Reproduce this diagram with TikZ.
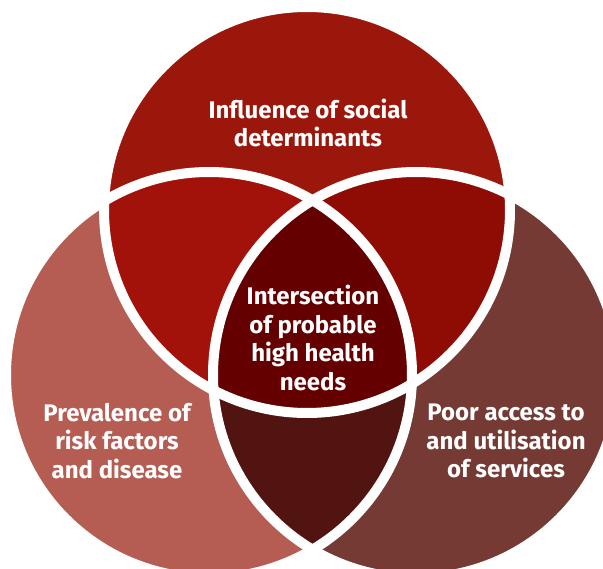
\documentclass[tikz,border=0pt]{standalone}
\usepackage{fontspec}
\setmainfont{Fira Sans}

\definecolor{socialred}{HTML}{9B170B}
\definecolor{riskpink}{HTML}{B55D52}
\definecolor{accessbrown}{HTML}{753A33}
\definecolor{socialrisk}{HTML}{A2110A}
\definecolor{socialaccess}{HTML}{8E0C03}
\definecolor{riskaccess}{HTML}{521410}
\definecolor{needsred}{HTML}{640000}

\begin{document}
\begin{tikzpicture}[x=1pt,y=-1pt,
  venntext/.style={text=white,align=center,font=\fontsize{24}{28.5}\selectfont\bfseries},
  rim/.style={draw=white,line width=10pt}]
\useasboundingbox (0,0) rectangle (603,569);
\clip (0,0) rectangle (603,569);
\coordinate (social) at (307,210);
\coordinate (risk) at (209,375);
\coordinate (access) at (416,375);
% single sets
\fill[socialred] (social) circle (203);
\fill[riskpink] (risk) circle (203);
\fill[accessbrown] (access) circle (203);
% overlaps
\begin{scope}
\clip (risk) circle (203);
\fill[riskaccess] (access) circle (203);
\end{scope}
\begin{scope}
\clip (social) circle (203);
\fill[socialrisk] (risk) circle (203);
\fill[socialaccess] (access) circle (203);
\clip (risk) circle (203);
\fill[needsred] (access) circle (203);
\end{scope}
\draw[rim] (social) circle (203);
\draw[rim] (risk) circle (203);
\draw[rim] (access) circle (203);
% labels
\node[venntext] (socialtext) at (308,123) {Influence of social\\determinants};
\node[venntext] (needstext) at (313,338) {Intersection\\of probable\\high health\\needs};
\node[venntext] (risktext) at (117,441) {Prevalence of\\risk factors\\and disease};
\node[venntext] (accesstext) at (506,441) {Poor access to\\and utilisation\\of services};
\end{tikzpicture}
\end{document}
